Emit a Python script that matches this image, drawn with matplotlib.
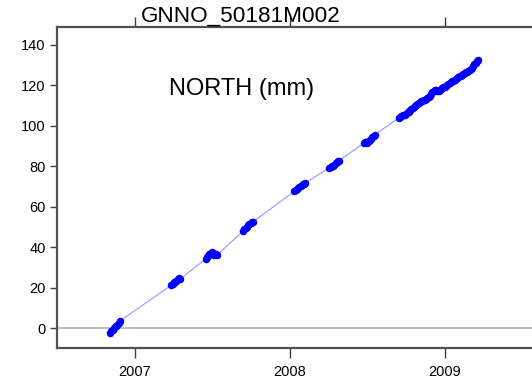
#!/usr/bin/env python3
# north component time series for one GNSS station
import numpy as np
import matplotlib.pyplot as plt
from matplotlib import font_manager

STATION = "GNNO_50181M002"
COMPONENT = "NORTH (mm)"

# decimal year / north offset (mm), one list per observation campaign
t1 = [2006.840, 2006.848, 2006.856, 2006.864, 2006.872, 2006.880, 2006.888, 2006.896, 2006.902]
v1 = [-2.4, -1.6, -0.8, 0.2, 0.6, 0.9, 1.6, 2.6, 3.4]

t2 = [2007.236, 2007.244, 2007.252, 2007.260, 2007.268, 2007.276, 2007.284, 2007.292]
v2 = [21.2, 22.0, 22.6, 23.0, 23.4, 24.0, 24.6, 24.2]

t3 = [2007.458, 2007.466, 2007.474, 2007.482, 2007.490, 2007.498, 2007.506, 2007.514, 2007.522, 2007.530]
v3 = [34.2, 35.0, 35.8, 36.6, 37.2, 37.6, 37.0, 36.2, 36.8, 36.0]

t4 = [2007.700, 2007.708, 2007.716, 2007.724, 2007.732, 2007.740, 2007.748, 2007.756, 2007.764]
v4 = [48.0, 48.8, 49.6, 50.2, 50.8, 51.4, 51.8, 52.2, 52.6]

t5 = [2008.030, 2008.038, 2008.046, 2008.054, 2008.062, 2008.070, 2008.078, 2008.086, 2008.094, 2008.102]
v5 = [67.6, 68.2, 68.8, 69.2, 69.8, 70.2, 70.6, 71.0, 71.4, 71.8]

t6 = [2008.256, 2008.264, 2008.272, 2008.280, 2008.288, 2008.296, 2008.304, 2008.312, 2008.318]
v6 = [79.2, 79.6, 80.0, 80.2, 80.8, 81.4, 82.0, 82.4, 82.8]

t7 = [2008.478, 2008.486, 2008.494, 2008.502, 2008.510, 2008.518, 2008.526, 2008.534, 2008.542, 2008.550]
v7 = [91.4, 91.8, 92.0, 91.6, 92.4, 93.0, 93.6, 94.4, 95.0, 95.6]

# continuous record from late 2008 on
t8 = [2008.705, 2008.713, 2008.721, 2008.729, 2008.737, 2008.745, 2008.753, 2008.761,
      2008.769, 2008.777, 2008.785, 2008.793, 2008.801, 2008.809, 2008.817, 2008.825,
      2008.833, 2008.841, 2008.849, 2008.857, 2008.865, 2008.873, 2008.881, 2008.889,
      2008.897, 2008.905, 2008.913, 2008.921, 2008.929, 2008.937, 2008.945, 2008.953,
      2008.961, 2008.969, 2008.977, 2008.985, 2008.993, 2009.001, 2009.009, 2009.017,
      2009.025, 2009.033, 2009.041, 2009.049, 2009.057, 2009.065, 2009.073, 2009.081,
      2009.089, 2009.097, 2009.105, 2009.113, 2009.121, 2009.129, 2009.137, 2009.145,
      2009.153, 2009.161, 2009.169, 2009.177, 2009.185, 2009.193, 2009.201, 2009.209,
      2009.215]
v8 = [104.0, 104.6, 105.0, 105.2, 105.6, 105.4, 106.0, 106.6,
      107.0, 107.6, 108.2, 108.8, 109.4, 109.8, 110.4, 111.0,
      111.4, 111.8, 112.2, 112.4, 112.8, 113.0, 113.2, 113.6,
      114.2, 114.8, 115.6, 116.6, 117.4, 117.8, 117.6, 117.2,
      117.4, 117.8, 118.2, 118.6, 119.0, 119.4, 119.8, 120.2,
      120.6, 121.2, 121.6, 122.0, 122.4, 122.8, 123.2, 123.6,
      124.0, 124.4, 124.8, 125.2, 125.6, 126.0, 126.4, 126.8,
      127.2, 127.6, 128.0, 128.8, 129.6, 130.4, 131.2, 132.0,
      132.8]

years = [2007, 2008, 2009]
yticks = [0, 20, 40, 60, 80, 100, 120, 140]

# narrow helvetica-like face if we have it
names = {f.name for f in font_manager.fontManager.ttflist}
fam = "Liberation Sans Narrow" if "Liberation Sans Narrow" in names else "Liberation Sans"
plt.rcParams['font.family'] = [fam, 'DejaVu Sans']

t = np.concatenate([t1, t2, t3, t4, t5, t6, t7, t8])
v = np.concatenate([v1, v2, v3, v4, v5, v6, v7, v8])

fig = plt.figure(figsize=(5.32, 3.85), dpi=100)
# box runs off the right edge of the page
ax = fig.add_axes([0.107, 0.096, 0.947, 0.834])

ax.axhline(0, color="#bdbdbd", lw=1.4, zorder=1)
ax.plot(t, v, color="#a0a0ff", lw=0.9, zorder=2)
ax.plot(t, v, ls="none", marker="o", ms=4.4, color="#0000ff", mec="#0000ff", zorder=3)

ax.set_xlim(2006.497, 2009.75)
ax.set_ylim(-9.9, 148.9)
ax.set_xticks(years)
ax.set_xticklabels([str(y) for y in years])
ax.set_yticks(yticks)

for s in ("left", "bottom", "top"):
    ax.spines[s].set_color("#505050")
    ax.spines[s].set_linewidth(1.6)
ax.spines["right"].set_visible(False)

ax.tick_params(axis="x", direction="out", length=7, width=1, color="#404040",
               labelsize=10.5, pad=5, top=True, labeltop=False)
ax.tick_params(axis="y", direction="out", length=5, width=1, color="#404040",
               labelsize=10.5, pad=3)

fig.text(0.452, 0.957, STATION, ha="center", va="center", fontsize=16.2)
fig.text(0.455, 0.769, COMPONENT, ha="center", va="center", fontsize=17)

fig.savefig("out.png", dpi=100)
